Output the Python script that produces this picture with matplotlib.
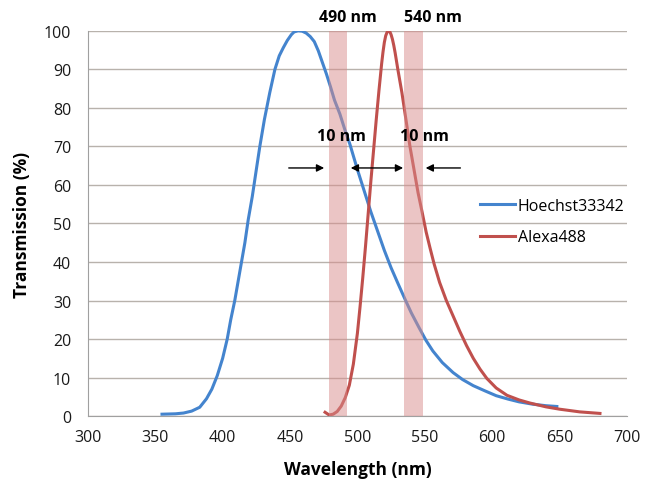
import numpy as np
import matplotlib
matplotlib.use("Agg")
import matplotlib.pyplot as plt

plt.rcParams['font.family'] = ['Open Sans', 'DejaVu Sans']

# spectra (wavelength nm, transmission %)
hoechst_wl = [355, 365, 371, 377, 383, 388, 392, 396, 400, 403.4, 406, 409, 411.5, 414, 416.5,
              419, 422, 425, 427.6, 431, 435, 438.8, 442, 445, 448, 451, 453, 456, 459, 462, 465,
              468, 471, 474, 477, 480, 483, 487, 491, 494.4, 500, 505, 510, 515, 520, 525, 530,
              535, 540, 546, 551, 556, 563, 571, 578, 586, 595, 603, 612, 620, 630, 640, 648]
hoechst_tr = [0.5, 0.6, 0.8, 1.3, 2.3, 4.5, 7, 10.5, 15, 20, 25, 30, 35, 40, 45,
              51, 57, 64, 70, 77, 84, 90, 93.5, 95.6, 97.5, 99, 99.7, 100, 99.9, 99.4, 98.5,
              97.2, 94.8, 91.8, 88.8, 85.5, 82, 78.4, 74, 70.6, 64, 58.5, 53, 48, 43, 38.5, 34.5,
              30.6, 26.8, 22.8, 19.6, 16.9, 13.9, 11.3, 9.5, 7.9, 6.5, 5.3, 4.4, 3.7, 3.1, 2.7, 2.5]

alexa_wl = [476, 479, 482, 485, 488, 491, 494, 497, 500, 502, 504, 506, 508, 510, 512, 514,
            516, 517, 518, 519, 520, 521, 522, 523, 524, 525, 526, 527, 528, 530, 533, 536,
            539, 542, 545, 548, 551, 554, 557, 561, 566, 571, 576, 581, 586, 591, 596, 603,
            611, 620, 628, 640, 650, 665, 680]
alexa_tr = [1.0, 0.3, 0.5, 1.2, 2.6, 4.8, 8, 13.5, 21.5, 28.5, 36, 44, 52.5, 61, 69, 77,
            84.5, 88, 91.5, 94.5, 97, 98.7, 99.6, 100, 99.8, 99, 97.8, 96.2, 94.3, 90, 84, 77,
            70, 64, 58, 53, 47.8, 43.5, 39.4, 34.7, 30, 26, 22, 18.3, 15, 12.2, 9.8, 7.3,
            5.4, 4.2, 3.4, 2.4, 1.8, 1.1, 0.7]

# filter bands
band_lo = [478.9, 534.5]
band_hi = [492.3, 549.0]
band_labels = ["490 nm", "540 nm"]
band_label_x = [492.6, 556]

fig = plt.figure(figsize=(6.51, 4.89), dpi=100)
ax = fig.add_axes([0.135, 0.147, 0.828, 0.788])

ax.plot(hoechst_wl, hoechst_tr, color='#4484CE', lw=2.2, label='Hoechst33342', zorder=3,
        solid_joinstyle='round')
ax.plot(alexa_wl, alexa_tr, color='#C0504D', lw=2.2, label='Alexa488', zorder=3,
        solid_joinstyle='round')

for lo, hi in zip(band_lo, band_hi):
    ax.axvspan(lo, hi, ymin=0, ymax=1, color='#d88c8c', alpha=0.5, lw=0, zorder=4)

for lab, x in zip(band_labels, band_label_x):
    ax.text(x, 103.7, lab, ha='center', va='center', fontsize=11.5,
            fontweight='bold', clip_on=False)

for x in [488, 550]:
    ax.text(x, 72.7, "10 nm", ha='center', va='center', fontsize=11.5, fontweight='bold', zorder=6)

arr = dict(arrowstyle='-|>', color='black', lw=1.0, mutation_scale=11)
ax.annotate('', xy=(477.4, 64.4), xytext=(447.0, 64.4), arrowprops=arr, zorder=6)
ax.annotate('', xy=(536, 64.4), xytext=(493, 64.4),
            arrowprops=dict(arrowstyle='<|-|>', color='black', lw=1.0, mutation_scale=11), zorder=6)
ax.annotate('', xy=(548.6, 64.4), xytext=(578.5, 64.4), arrowprops=arr, zorder=6)

ax.set_xlim(300, 700)
ax.set_ylim(0, 100)
ax.set_xticks(np.arange(300, 701, 50))
ax.set_yticks(np.arange(0, 101, 10))
ax.yaxis.grid(True, color='#b8b2ac', lw=1.0)
ax.set_axisbelow(True)
ax.tick_params(axis='both', length=0, labelsize=11.5, colors='#1a1a1a')
ax.tick_params(axis='y', pad=12)
ax.tick_params(axis='x', pad=9)
for s in ['top', 'right']:
    ax.spines[s].set_visible(False)
for s in ['left', 'bottom']:
    ax.spines[s].set_color('#a0a0a0')

ax.set_xlabel('Wavelength (nm)', fontsize=12.5, fontweight='bold', labelpad=11)
ax.set_ylabel('Transmission (%)', fontsize=12.5, fontweight='bold', labelpad=9)

ax.legend(loc='center left', bbox_to_anchor=(0.70, 0.505), frameon=False,
          fontsize=11.5, handlelength=2.2, handletextpad=0.2, labelspacing=0.95)

fig.savefig('out.png', dpi=100)
